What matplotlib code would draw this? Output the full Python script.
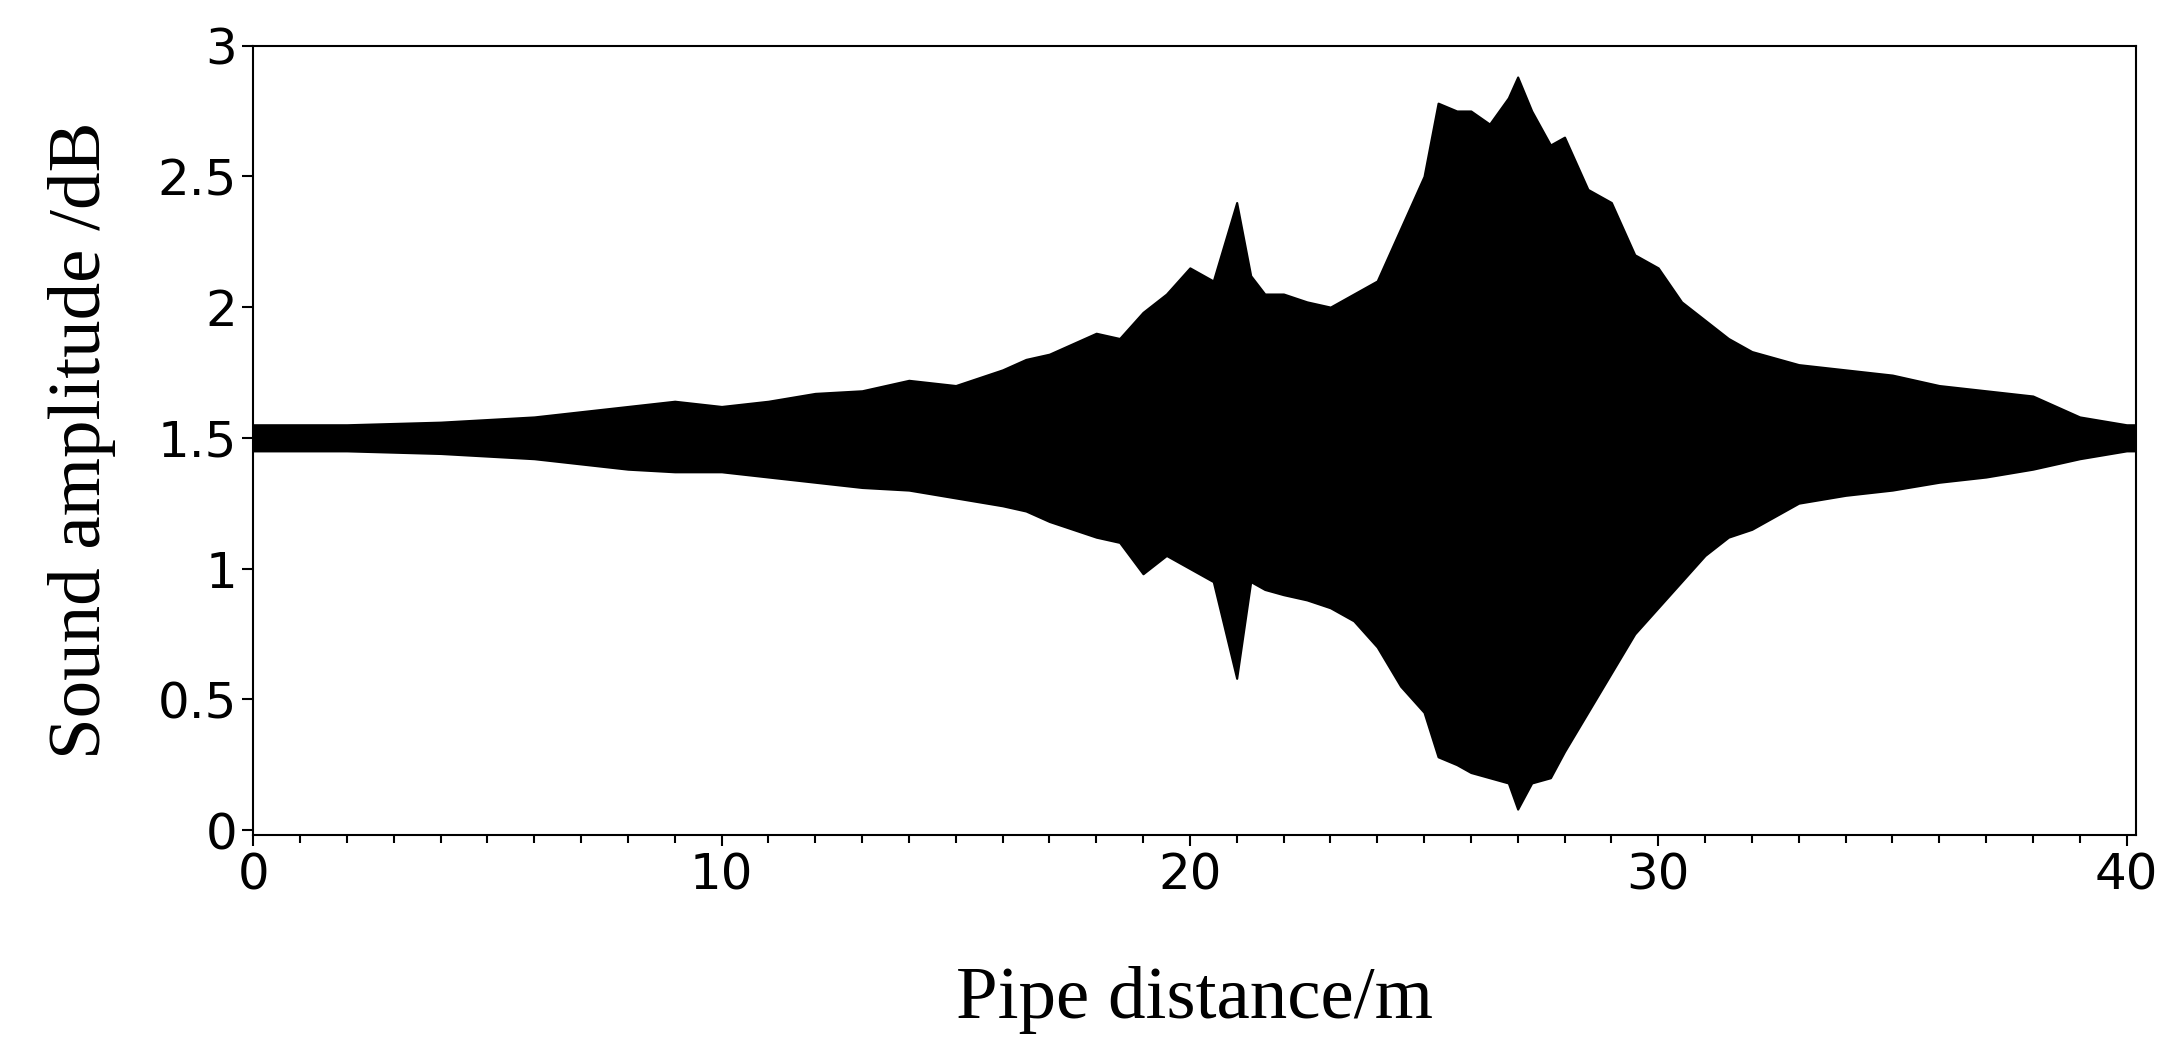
import matplotlib
matplotlib.use('Agg')
import matplotlib.pyplot as plt
from matplotlib.ticker import MultipleLocator

# envelope of the dense waveform
dist = [0, 2, 4, 6, 8, 9, 10, 11, 12, 13, 14, 15, 16, 16.5, 17, 17.5, 18, 18.5, 19,
        19.5, 20, 20.5, 21, 21.3, 21.6, 22, 22.5, 23, 23.5, 24, 24.5, 25, 25.3, 25.7,
        26, 26.4, 26.8, 27, 27.3, 27.7, 28, 28.5, 29, 29.5, 30, 30.5, 31, 31.5, 32,
        33, 34, 35, 36, 37, 38, 39, 40, 40.2]
upper = [1.55, 1.55, 1.56, 1.58, 1.62, 1.64, 1.62, 1.64, 1.67, 1.68, 1.72, 1.70, 1.76, 1.80,
         1.82, 1.86, 1.90, 1.88, 1.98, 2.05, 2.15, 2.10, 2.40, 2.12, 2.05, 2.05, 2.02,
         2.00, 2.05, 2.10, 2.30, 2.50, 2.78, 2.75, 2.75, 2.70, 2.80, 2.88, 2.75, 2.62,
         2.65, 2.45, 2.40, 2.20, 2.15, 2.02, 1.95, 1.88, 1.83, 1.78, 1.76, 1.74, 1.70,
         1.68, 1.66, 1.58, 1.55, 1.55]
lower = [1.45, 1.45, 1.44, 1.42, 1.38, 1.37, 1.37, 1.35, 1.33, 1.31, 1.30, 1.27, 1.24, 1.22,
         1.18, 1.15, 1.12, 1.10, 0.98, 1.05, 1.00, 0.95, 0.58, 0.95, 0.92, 0.90, 0.88,
         0.85, 0.80, 0.70, 0.55, 0.45, 0.28, 0.25, 0.22, 0.20, 0.18, 0.08, 0.18, 0.20,
         0.30, 0.45, 0.60, 0.75, 0.85, 0.95, 1.05, 1.12, 1.15, 1.25, 1.28, 1.30, 1.33,
         1.35, 1.38, 1.42, 1.45, 1.45]

fig = plt.figure(figsize=(21.64, 10.6), dpi=100)
ax = fig.add_axes([0.117, 0.212, 0.87, 0.745])
ax.fill_between(dist, lower, upper, color='black', linewidth=1.5, edgecolor='black')

ax.set_xlim(0, 40.2)
ax.set_ylim(-0.02, 3.0)
ax.xaxis.set_major_locator(MultipleLocator(10))
ax.xaxis.set_minor_locator(MultipleLocator(1))
ax.set_yticks([0, 0.5, 1, 1.5, 2, 2.5, 3])
ax.set_yticklabels(['0', '0.5', '1', '1.5', '2', '2.5', '3'])
ax.tick_params(axis='both', which='major', labelsize=36, length=8, width=1.5)
ax.tick_params(axis='x', which='minor', length=6, width=1.5)
for s in ax.spines.values():
    s.set_linewidth(1.5)

ax.set_xlabel('Pipe distance/m', fontsize=54, family='Liberation Serif', labelpad=48)
ax.set_ylabel('Sound amplitude /dB', fontsize=54, family='Liberation Serif', labelpad=30)

fig.savefig('out.png', dpi=100)
